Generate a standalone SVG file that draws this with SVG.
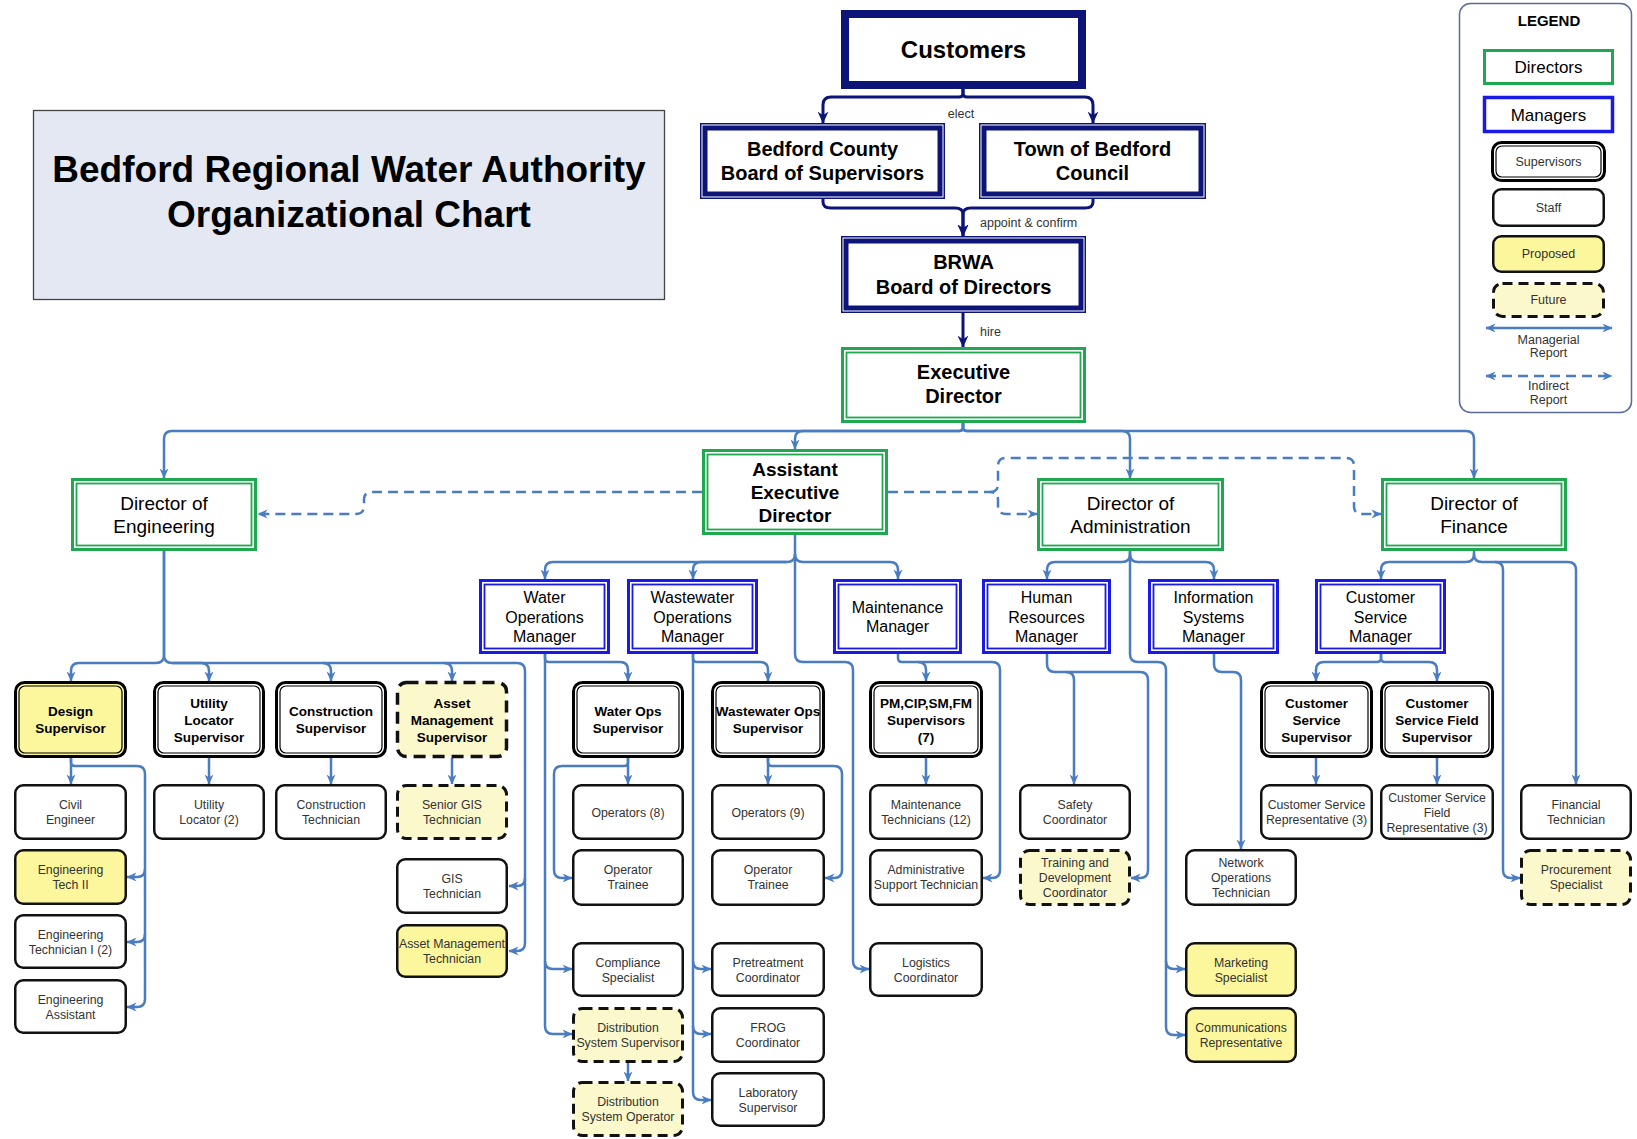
<svg xmlns="http://www.w3.org/2000/svg" width="1637" height="1139" viewBox="0 0 1637 1139">
<defs>
<style>
text{font-family:"Liberation Sans",Arial,sans-serif;text-anchor:middle}
.nv{fill:#fff;stroke:#0c1478}
.dO{fill:#fff;stroke:#1fa84f;stroke-width:3}
.dI{fill:none;stroke:#1fa84f;stroke-width:1.8}
.mO{fill:#fff;stroke:#1a1ae6;stroke-width:3}
.mI{fill:none;stroke:#1a1ae6;stroke-width:1.8}
.sO{fill:#fff;stroke:#000;stroke-width:3}
.sI{fill:none;stroke:#000;stroke-width:1.2}
.st{fill:#fff;stroke:#111;stroke-width:2.5}
.pr{fill:#fcf69c}
.fu{fill:#fbf8cc;stroke:#111;stroke-width:3;stroke-dasharray:10 6}
.c{fill:none;stroke:#4a7cc1;stroke-width:2.5}
.cn{fill:none;stroke:#0c1478;stroke-width:3}
.dash{stroke-dasharray:10 6}
.tt{font-size:24px;font-weight:bold;fill:#000}
.tb{font-size:20px;font-weight:bold;fill:#000}
.dt{font-size:19px;fill:#000}
.dtb{font-size:19px;font-weight:bold;fill:#000}
.mt{font-size:16px;fill:#000}
.sv{font-size:13.5px;font-weight:bold;fill:#000}
.sf{font-size:12.3px;fill:#333}
.lb{font-size:12.5px;fill:#333}
</style>
<marker id="ab" viewBox="0 0 10 10" refX="9.5" refY="5" markerWidth="10" markerHeight="10" markerUnits="userSpaceOnUse" orient="auto-start-reverse"><path d="M0,0.5 L10,5 L0,9.5 L3,5 z" fill="#4a7cc1"/></marker>
<marker id="an" viewBox="0 0 10 10" refX="9.5" refY="5" markerWidth="12" markerHeight="12" markerUnits="userSpaceOnUse" orient="auto"><path d="M0,0.5 L10,5 L0,9.5 L3,5 z" fill="#0c1478"/></marker>
</defs>
<rect width="1637" height="1139" fill="#fff"/>

<g id="title">
<rect x="33.5" y="110.5" width="631" height="189" fill="#e3e8f3" stroke="#444" stroke-width="1.3"/>
<text x="349" y="182" style="font-size:37px;font-weight:bold">Bedford Regional Water Authority</text>
<text x="349" y="227" style="font-size:37px;font-weight:bold">Organizational Chart</text>
</g>

<g id="legend">
<rect x="1459.5" y="3.5" width="172" height="409" rx="11" fill="#fff" stroke="#5a6a9a" stroke-width="1.5"/>
<text x="1549" y="26" style="font-size:15px;font-weight:bold">LEGEND</text>
<rect x="1484.5" y="50.5" width="128" height="33" fill="#fff" stroke="#1fa84f" stroke-width="3"/>
<text x="1548.5" y="73" style="font-size:17px">Directors</text>
<rect x="1484.5" y="97.5" width="128" height="34" fill="#fff" stroke="#1a1ae6" stroke-width="3.5"/>
<text x="1548.5" y="120.5" style="font-size:17px">Managers</text>
<rect class="sO" x="1492.5" y="142.5" width="112" height="38" rx="9"/>
<rect class="sI" x="1496" y="146" width="105" height="31" rx="6"/>
<text class="lb" x="1548.5" y="166">Supervisors</text>
<rect class="st" x="1493.25" y="189.25" width="110.5" height="36.5" rx="8"/>
<text class="lb" x="1548.5" y="212">Staff</text>
<rect class="st pr" x="1493.25" y="236.25" width="110.5" height="35.5" rx="8"/>
<text class="lb" x="1548.5" y="258">Proposed</text>
<rect class="fu" x="1493.5" y="283.5" width="110" height="33" rx="9"/>
<text class="lb" x="1548.5" y="304">Future</text>
<path class="c" d="M1486,328 H1612" marker-start="url(#ab)" marker-end="url(#ab)"/>
<text class="lb" x="1548.5" y="344">Managerial</text>
<text class="lb" x="1548.5" y="357">Report</text>
<path class="c dash" d="M1486,376 H1612" marker-start="url(#ab)" marker-end="url(#ab)"/>
<text class="lb" x="1548.5" y="390">Indirect</text>
<text class="lb" x="1548.5" y="404">Report</text>
</g>

<g id="connectors">
<!-- governance (navy) -->
<path class="cn" d="M963,89 V93 Q963,97 959,97 H831 Q823,97 823,105 V123" marker-end="url(#an)"/>
<path class="cn" d="M963,89 V93 Q963,97 967,97 H1085 Q1093,97 1093,105 V123" marker-end="url(#an)"/>
<path class="cn" d="M823,199 V202 Q823,208 831,208 H955 Q963,208 963,214 V236" marker-end="url(#an)"/>
<path class="cn" d="M1093,199 V202 Q1093,208 1085,208 H971 Q963,208 963,214 V236" marker-end="url(#an)"/>
<path class="cn" d="M963,313 V347" marker-end="url(#an)"/>
<!-- executive director -->
<path class="c" d="M963,423 V427 Q963,431 959,431 H172 Q164,431 164,439 V478" marker-end="url(#ab)"/>
<path class="c" d="M963,423 V427 Q963,431 959,431 H803 Q795,431 795,439 V449" marker-end="url(#ab)"/>
<path class="c" d="M963,423 V427 Q963,431 967,431 H1122 Q1130,431 1130,439 V478" marker-end="url(#ab)"/>
<path class="c" d="M963,423 V427 Q963,431 967,431 H1466 Q1474,431 1474,439 V478" marker-end="url(#ab)"/>
<!-- indirect (dashed) -->
<path class="c dash" d="M702,492 H372 Q364,492 364,500 V506 Q364,514 356,514 H258" marker-end="url(#ab)"/>
<path class="c dash" d="M888,492 H990 Q998,492 998,500 V506 Q998,514 1006,514 H1037" marker-end="url(#ab)"/>
<path class="c dash" d="M990,492 Q998,492 998,484 V466 Q998,458 1006,458 H1346 Q1354,458 1354,466 V506 Q1354,514 1362,514 H1381" marker-end="url(#ab)"/>
<!-- director of engineering -->
<path class="c" d="M164,551 V655 Q164,663 156,663 H79 Q71,663 71,671 V681" marker-end="url(#ab)"/>
<path class="c" d="M164,551 V655 Q164,663 172,663 H201 Q209,663 209,671 V681" marker-end="url(#ab)"/>
<path class="c" d="M172,663 H323 Q331,663 331,671 V681" marker-end="url(#ab)"/>
<path class="c" d="M323,663 H444 Q452,663 452,671 V681" marker-end="url(#ab)"/>
<path class="c" d="M444,663 H517 Q525,663 525,671 V943 Q525,951 517,951 H509" marker-end="url(#ab)"/>
<path class="c" d="M525,878 Q525,886 517,886 H509" marker-end="url(#ab)"/>
<path class="c" d="M71,758 V784" marker-end="url(#ab)"/>
<path class="c" d="M71,758 V762 Q71,766 75,766 H137 Q145,766 145,774 V999 Q145,1007 137,1007 H127" marker-end="url(#ab)"/>
<path class="c" d="M145,869 Q145,877 137,877 H127" marker-end="url(#ab)"/>
<path class="c" d="M145,934 Q145,942 137,942 H127" marker-end="url(#ab)"/>
<path class="c" d="M209,758 V784" marker-end="url(#ab)"/>
<path class="c" d="M331,758 V784" marker-end="url(#ab)"/>
<path class="c" d="M452,758 V784" marker-end="url(#ab)"/>
<!-- assistant executive director -->
<path class="c" d="M795,535 V554 Q795,562 787,562 H553 Q545,562 545,570 V579" marker-end="url(#ab)"/>
<path class="c" d="M787,562 H701 Q693,562 693,570 V579" marker-end="url(#ab)"/>
<path class="c" d="M795,554 Q795,562 803,562 H890 Q898,562 898,570 V579" marker-end="url(#ab)"/>
<path class="c" d="M795,554 V654 Q795,662 803,662 H845 Q853,662 853,670 V961 Q853,969 861,969 H869" marker-end="url(#ab)"/>
<!-- water ops manager -->
<path class="c" d="M545,654 V1026 Q545,1034 553,1034 H572" marker-end="url(#ab)"/>
<path class="c" d="M545,961 Q545,969 553,969 H572" marker-end="url(#ab)"/>
<path class="c" d="M545,654 V658 Q545,662 549,662 H620 Q628,662 628,670 V681" marker-end="url(#ab)"/>
<path class="c" d="M628,758 V784" marker-end="url(#ab)"/>
<path class="c" d="M628,758 V762 Q628,766 624,766 H562 Q554,766 554,774 V870 Q554,878 562,878 H572" marker-end="url(#ab)"/>
<path class="c" d="M628,1063 V1081" marker-end="url(#ab)"/>
<!-- wastewater ops manager -->
<path class="c" d="M693,654 V1092 Q693,1100 701,1100 H711" marker-end="url(#ab)"/>
<path class="c" d="M693,961 Q693,969 701,969 H711" marker-end="url(#ab)"/>
<path class="c" d="M693,1026 Q693,1034 701,1034 H711" marker-end="url(#ab)"/>
<path class="c" d="M693,654 V658 Q693,662 697,662 H760 Q768,662 768,670 V681" marker-end="url(#ab)"/>
<path class="c" d="M768,758 V784" marker-end="url(#ab)"/>
<path class="c" d="M768,758 V762 Q768,766 772,766 H834 Q842,766 842,774 V870 Q842,878 834,878 H825" marker-end="url(#ab)"/>
<!-- maintenance manager -->
<path class="c" d="M898,654 V658 Q898,662 902,662 H918 Q926,662 926,670 V681" marker-end="url(#ab)"/>
<path class="c" d="M918,662 H992 Q1000,662 1000,670 V870 Q1000,878 992,878 H983" marker-end="url(#ab)"/>
<path class="c" d="M926,758 V784" marker-end="url(#ab)"/>
<!-- director of administration -->
<path class="c" d="M1130,551 V554 Q1130,562 1122,562 H1055 Q1047,562 1047,570 V579" marker-end="url(#ab)"/>
<path class="c" d="M1130,554 Q1130,562 1138,562 H1206 Q1214,562 1214,570 V579" marker-end="url(#ab)"/>
<path class="c" d="M1130,551 V654 Q1130,662 1138,662 H1158 Q1166,662 1166,670 V1027 Q1166,1035 1174,1035 H1185" marker-end="url(#ab)"/>
<path class="c" d="M1166,961 Q1166,969 1174,969 H1185" marker-end="url(#ab)"/>
<path class="c" d="M1047,654 V664 Q1047,672 1055,672 H1066 Q1074,672 1074,680 V784" marker-end="url(#ab)"/>
<path class="c" d="M1066,672 H1140 Q1148,672 1148,680 V870 Q1148,878 1140,878 H1131" marker-end="url(#ab)"/>
<path class="c" d="M1214,654 V664 Q1214,672 1222,672 H1233 Q1241,672 1241,680 V849" marker-end="url(#ab)"/>
<!-- director of finance -->
<path class="c" d="M1474,551 V554 Q1474,562 1466,562 H1389 Q1381,562 1381,570 V579" marker-end="url(#ab)"/>
<path class="c" d="M1474,554 Q1474,562 1482,562 H1495 Q1503,562 1503,570 V870 Q1503,878 1511,878 H1520" marker-end="url(#ab)"/>
<path class="c" d="M1495,562 H1568 Q1576,562 1576,570 V784" marker-end="url(#ab)"/>
<path class="c" d="M1381,654 V658 Q1381,662 1377,662 H1324 Q1316,662 1316,670 V681" marker-end="url(#ab)"/>
<path class="c" d="M1381,654 V658 Q1381,662 1385,662 H1429 Q1437,662 1437,670 V681" marker-end="url(#ab)"/>
<path class="c" d="M1316,758 V784" marker-end="url(#ab)"/>
<path class="c" d="M1437,758 V784" marker-end="url(#ab)"/>
</g>

<!-- governance nodes -->
<g id="customers"><rect class="nv" x="845" y="14" width="237" height="71" stroke-width="8"/><text class="tt" x="963.5" y="58">Customers</text></g>
<g id="county"><rect class="nv" x="700.75" y="123.75" width="243.5" height="74.5" stroke-width="1.5"/><rect class="nv" x="705" y="128" width="235" height="66" stroke-width="5"/><text class="tb" x="822.5" y="156">Bedford County</text><text class="tb" x="822.5" y="180">Board of Supervisors</text></g>
<g id="town"><rect class="nv" x="979.75" y="123.75" width="225.5" height="74.5" stroke-width="1.5"/><rect class="nv" x="984" y="128" width="217" height="66" stroke-width="5"/><text class="tb" x="1092.5" y="156">Town of Bedford</text><text class="tb" x="1092.5" y="180">Council</text></g>
<g id="brwa"><rect class="nv" x="841.75" y="236.75" width="243.5" height="75.5" stroke-width="1.5"/><rect class="nv" x="846" y="241" width="235" height="67" stroke-width="5"/><text class="tb" x="963.5" y="269">BRWA</text><text class="tb" x="963.5" y="294">Board of Directors</text></g>

<!-- directors -->
<g id="exec-dir"><rect class="dO" x="842.5" y="348.5" width="242" height="73"/><rect class="dI" x="846.5" y="352.5" width="234" height="65"/><text class="tb" x="963.5" y="379">Executive</text><text class="tb" x="963.5" y="403">Director</text></g>
<g id="dir-eng"><rect class="dO" x="72.5" y="479.5" width="183" height="70"/><rect class="dI" x="76.5" y="483.5" width="175" height="62"/><text class="dt" x="164" y="510">Director of</text><text class="dt" x="164" y="533">Engineering</text></g>
<g id="aed"><rect class="dO" x="703.5" y="450.5" width="183" height="83"/><rect class="dI" x="707.5" y="454.5" width="175" height="75"/><text class="dtb" x="795" y="476">Assistant</text><text class="dtb" x="795" y="499">Executive</text><text class="dtb" x="795" y="522">Director</text></g>
<g id="dir-admin"><rect class="dO" x="1038.5" y="479.5" width="184" height="70"/><rect class="dI" x="1042.5" y="483.5" width="176" height="62"/><text class="dt" x="1130.5" y="510">Director of</text><text class="dt" x="1130.5" y="533">Administration</text></g>
<g id="dir-fin"><rect class="dO" x="1382.5" y="479.5" width="183" height="70"/><rect class="dI" x="1386.5" y="483.5" width="175" height="62"/><text class="dt" x="1474" y="510">Director of</text><text class="dt" x="1474" y="533">Finance</text></g>

<!-- managers -->
<g id="mgr-water"><rect class="mO" x="480.5" y="580.5" width="128" height="72"/><rect class="mI" x="484.5" y="584.5" width="120" height="64"/><text class="mt" x="544.5" y="603">Water</text><text class="mt" x="544.5" y="622.5">Operations</text><text class="mt" x="544.5" y="642">Manager</text></g>
<g id="mgr-ww"><rect class="mO" x="628.5" y="580.5" width="128" height="72"/><rect class="mI" x="632.5" y="584.5" width="120" height="64"/><text class="mt" x="692.5" y="603">Wastewater</text><text class="mt" x="692.5" y="622.5">Operations</text><text class="mt" x="692.5" y="642">Manager</text></g>
<g id="mgr-maint"><rect class="mO" x="834.5" y="580.5" width="126" height="72"/><rect class="mI" x="838.5" y="584.5" width="118" height="64"/><text class="mt" x="897.5" y="613">Maintenance</text><text class="mt" x="897.5" y="632">Manager</text></g>
<g id="mgr-hr"><rect class="mO" x="983.5" y="580.5" width="126" height="72"/><rect class="mI" x="987.5" y="584.5" width="118" height="64"/><text class="mt" x="1046.5" y="603">Human</text><text class="mt" x="1046.5" y="622.5">Resources</text><text class="mt" x="1046.5" y="642">Manager</text></g>
<g id="mgr-is"><rect class="mO" x="1149.5" y="580.5" width="128" height="72"/><rect class="mI" x="1153.5" y="584.5" width="120" height="64"/><text class="mt" x="1213.5" y="603">Information</text><text class="mt" x="1213.5" y="622.5">Systems</text><text class="mt" x="1213.5" y="642">Manager</text></g>
<g id="mgr-cs"><rect class="mO" x="1316.5" y="580.5" width="128" height="72"/><rect class="mI" x="1320.5" y="584.5" width="120" height="64"/><text class="mt" x="1380.5" y="603">Customer</text><text class="mt" x="1380.5" y="622.5">Service</text><text class="mt" x="1380.5" y="642">Manager</text></g>

<!-- supervisors -->
<g id="sup-design"><rect class="sO pr" x="15.5" y="682.5" width="110" height="74" rx="9"/><rect class="sI" x="19" y="686" width="103" height="67" rx="6"/><text class="sv" x="70.5" y="716">Design</text><text class="sv" x="70.5" y="733">Supervisor</text></g>
<g id="sup-utility"><rect class="sO" x="154.5" y="682.5" width="109" height="74" rx="9"/><rect class="sI" x="158" y="686" width="102" height="67" rx="6"/><text class="sv" x="209" y="707.5">Utility</text><text class="sv" x="209" y="724.5">Locator</text><text class="sv" x="209" y="741.5">Supervisor</text></g>
<g id="sup-construction"><rect class="sO" x="276.5" y="682.5" width="109" height="74" rx="9"/><rect class="sI" x="280" y="686" width="102" height="67" rx="6"/><text class="sv" x="331" y="716">Construction</text><text class="sv" x="331" y="733">Supervisor</text></g>
<g id="sup-asset"><rect class="fu" x="397.5" y="682.5" width="109" height="74" rx="9" style="stroke-width:3.5;stroke-dasharray:12 7"/><text class="sv" x="452" y="707.5">Asset</text><text class="sv" x="452" y="724.5">Management</text><text class="sv" x="452" y="741.5">Supervisor</text></g>
<g id="sup-water"><rect class="sO" x="573.5" y="682.5" width="109" height="74" rx="9"/><rect class="sI" x="577" y="686" width="102" height="67" rx="6"/><text class="sv" x="628" y="716">Water Ops</text><text class="sv" x="628" y="733">Supervisor</text></g>
<g id="sup-ww"><rect class="sO" x="712.5" y="682.5" width="111" height="74" rx="9"/><rect class="sI" x="716" y="686" width="104" height="67" rx="6"/><text class="sv" x="768" y="716">Wastewater Ops</text><text class="sv" x="768" y="733">Supervisor</text></g>
<g id="sup-pm"><rect class="sO" x="870.5" y="682.5" width="111" height="74" rx="9"/><rect class="sI" x="874" y="686" width="104" height="67" rx="6"/><text class="sv" x="926" y="707.5">PM,CIP,SM,FM</text><text class="sv" x="926" y="724.5">Supervisors</text><text class="sv" x="926" y="741.5">(7)</text></g>
<g id="sup-cs"><rect class="sO" x="1261.5" y="682.5" width="110" height="74" rx="9"/><rect class="sI" x="1265" y="686" width="103" height="67" rx="6"/><text class="sv" x="1316.5" y="707.5">Customer</text><text class="sv" x="1316.5" y="724.5">Service</text><text class="sv" x="1316.5" y="741.5">Supervisor</text></g>
<g id="sup-csfield"><rect class="sO" x="1381.5" y="682.5" width="111" height="74" rx="9"/><rect class="sI" x="1385" y="686" width="104" height="67" rx="6"/><text class="sv" x="1437" y="707.5">Customer</text><text class="sv" x="1437" y="724.5">Service Field</text><text class="sv" x="1437" y="741.5">Supervisor</text></g>

<!-- staff: engineering -->
<g id="civil-eng"><rect class="st" x="15.25" y="785.25" width="110.5" height="53.5" rx="8"/><text class="sf" x="70.5" y="809">Civil</text><text class="sf" x="70.5" y="824">Engineer</text></g>
<g id="eng-tech2"><rect class="st pr" x="15.25" y="850.25" width="110.5" height="53.5" rx="8"/><text class="sf" x="70.5" y="874">Engineering</text><text class="sf" x="70.5" y="889">Tech II</text></g>
<g id="eng-tech1"><rect class="st" x="15.25" y="915.25" width="110.5" height="52.5" rx="8"/><text class="sf" x="70.5" y="938.5">Engineering</text><text class="sf" x="70.5" y="953.5">Technician I (2)</text></g>
<g id="eng-asst"><rect class="st" x="15.25" y="980.25" width="110.5" height="52.5" rx="8"/><text class="sf" x="70.5" y="1003.5">Engineering</text><text class="sf" x="70.5" y="1018.5">Assistant</text></g>
<g id="utility-locator"><rect class="st" x="154.25" y="785.25" width="109.5" height="53.5" rx="8"/><text class="sf" x="209" y="809">Utility</text><text class="sf" x="209" y="824">Locator (2)</text></g>
<g id="construction-tech"><rect class="st" x="276.25" y="785.25" width="109.5" height="53.5" rx="8"/><text class="sf" x="331" y="809">Construction</text><text class="sf" x="331" y="824">Technician</text></g>
<g id="senior-gis"><rect class="fu" x="397.5" y="785.5" width="109" height="53" rx="9"/><text class="sf" x="452" y="809">Senior GIS</text><text class="sf" x="452" y="824">Technician</text></g>
<g id="gis-tech"><rect class="st" x="397.25" y="859.25" width="109.5" height="53.5" rx="8"/><text class="sf" x="452" y="883">GIS</text><text class="sf" x="452" y="898">Technician</text></g>
<g id="am-tech"><rect class="st pr" x="397.25" y="925.25" width="109.5" height="51.5" rx="8"/><text class="sf" x="452" y="948">Asset Management</text><text class="sf" x="452" y="963">Technician</text></g>

<!-- staff: operations -->
<g id="operators-8"><rect class="st" x="573.25" y="785.25" width="109.5" height="53.5" rx="8"/><text class="sf" x="628" y="816.5">Operators (8)</text></g>
<g id="op-trainee-w"><rect class="st" x="573.25" y="850.25" width="109.5" height="54.5" rx="8"/><text class="sf" x="628" y="874">Operator</text><text class="sf" x="628" y="889">Trainee</text></g>
<g id="compliance"><rect class="st" x="573.25" y="943.25" width="109.5" height="52.5" rx="8"/><text class="sf" x="628" y="966.5">Compliance</text><text class="sf" x="628" y="981.5">Specialist</text></g>
<g id="dist-sup"><rect class="fu" x="573.5" y="1008.5" width="109" height="53" rx="9"/><text class="sf" x="628" y="1032">Distribution</text><text class="sf" x="628" y="1047">System Supervisor</text></g>
<g id="dist-op"><rect class="fu" x="573.5" y="1082.5" width="109" height="53" rx="9"/><text class="sf" x="628" y="1106">Distribution</text><text class="sf" x="628" y="1121">System Operator</text></g>
<g id="operators-9"><rect class="st" x="712.25" y="785.25" width="111.5" height="53.5" rx="8"/><text class="sf" x="768" y="816.5">Operators (9)</text></g>
<g id="op-trainee-ww"><rect class="st" x="712.25" y="850.25" width="111.5" height="54.5" rx="8"/><text class="sf" x="768" y="874">Operator</text><text class="sf" x="768" y="889">Trainee</text></g>
<g id="pretreatment"><rect class="st" x="712.25" y="943.25" width="111.5" height="52.5" rx="8"/><text class="sf" x="768" y="966.5">Pretreatment</text><text class="sf" x="768" y="981.5">Coordinator</text></g>
<g id="frog"><rect class="st" x="712.25" y="1008.25" width="111.5" height="53.5" rx="8"/><text class="sf" x="768" y="1032">FROG</text><text class="sf" x="768" y="1047">Coordinator</text></g>
<g id="lab-sup"><rect class="st" x="712.25" y="1073.25" width="111.5" height="52.5" rx="8"/><text class="sf" x="768" y="1096.5">Laboratory</text><text class="sf" x="768" y="1111.5">Supervisor</text></g>
<g id="maint-tech"><rect class="st" x="870.25" y="785.25" width="111.5" height="53.5" rx="8"/><text class="sf" x="926" y="809">Maintenance</text><text class="sf" x="926" y="824">Technicians (12)</text></g>
<g id="admin-support"><rect class="st" x="870.25" y="850.25" width="111.5" height="54.5" rx="8"/><text class="sf" x="926" y="874">Administrative</text><text class="sf" x="926" y="889">Support Technician</text></g>
<g id="logistics"><rect class="st" x="870.25" y="943.25" width="111.5" height="52.5" rx="8"/><text class="sf" x="926" y="966.5">Logistics</text><text class="sf" x="926" y="981.5">Coordinator</text></g>

<!-- staff: administration -->
<g id="safety"><rect class="st" x="1020.25" y="785.25" width="109.5" height="53.5" rx="8"/><text class="sf" x="1075" y="809">Safety</text><text class="sf" x="1075" y="824">Coordinator</text></g>
<g id="training"><rect class="fu" x="1020.5" y="850.5" width="109" height="54" rx="9"/><text class="sf" x="1075" y="866.5">Training and</text><text class="sf" x="1075" y="881.5">Development</text><text class="sf" x="1075" y="896.5">Coordinator</text></g>
<g id="network-ops"><rect class="st" x="1186.25" y="850.25" width="109.5" height="54.5" rx="8"/><text class="sf" x="1241" y="866.5">Network</text><text class="sf" x="1241" y="881.5">Operations</text><text class="sf" x="1241" y="896.5">Technician</text></g>
<g id="marketing"><rect class="st pr" x="1186.25" y="943.25" width="109.5" height="52.5" rx="8"/><text class="sf" x="1241" y="966.5">Marketing</text><text class="sf" x="1241" y="981.5">Specialist</text></g>
<g id="communications"><rect class="st pr" x="1186.25" y="1008.25" width="109.5" height="53.5" rx="8"/><text class="sf" x="1241" y="1032">Communications</text><text class="sf" x="1241" y="1047">Representative</text></g>

<!-- staff: finance -->
<g id="csr"><rect class="st" x="1261.25" y="785.25" width="110.5" height="53.5" rx="8"/><text class="sf" x="1316.5" y="809">Customer Service</text><text class="sf" x="1316.5" y="824">Representative (3)</text></g>
<g id="csfr"><rect class="st" x="1381.25" y="785.25" width="111.5" height="53.5" rx="8"/><text class="sf" x="1437" y="801.5">Customer Service</text><text class="sf" x="1437" y="816.5">Field</text><text class="sf" x="1437" y="831.5">Representative (3)</text></g>
<g id="financial-tech"><rect class="st" x="1521.25" y="785.25" width="109.5" height="53.5" rx="8"/><text class="sf" x="1576" y="809">Financial</text><text class="sf" x="1576" y="824">Technician</text></g>
<g id="procurement"><rect class="fu" x="1521.5" y="850.5" width="109" height="54" rx="9"/><text class="sf" x="1576" y="874">Procurement</text><text class="sf" x="1576" y="889">Specialist</text></g>

<g id="labels">
<text x="961" y="118" style="font-size:12.5px;fill:#333">elect</text>
<text x="980" y="227" style="font-size:12.5px;fill:#333;text-anchor:start">appoint &amp; confirm</text>
<text x="980" y="336" style="font-size:12.5px;fill:#333;text-anchor:start">hire</text>
</g>
</svg>
